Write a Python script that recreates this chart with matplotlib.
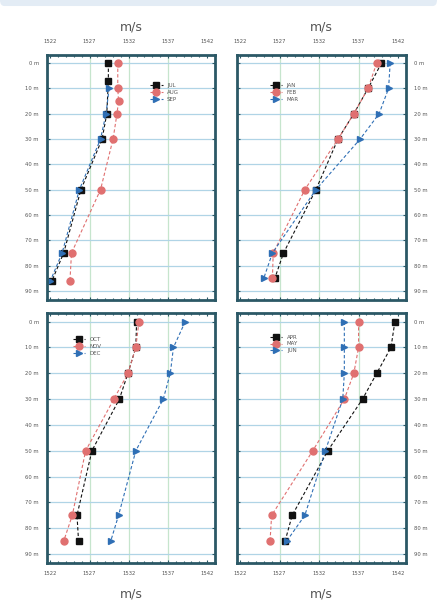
import numpy as np
import matplotlib
matplotlib.use("Agg")
import matplotlib.pyplot as plt
from matplotlib.patches import FancyBboxPatch

# depth levels (m)
depths = [0, 10, 20, 30, 50, 75, 85]

# top-left: JUL / AUG / SEP
jul_d = [0, 7, 20, 30, 50, 75, 86]
jul = [1529.4, 1529.4, 1529.2, 1528.6, 1525.9, 1523.7, 1522.2]
aug_d = [0, 10, 15, 20, 30, 50, 75, 86]
aug = [1530.6, 1530.6, 1530.7, 1530.5, 1530.0, 1528.4, 1524.7, 1524.5]
sep_d = [10, 20, 30, 50, 75, 86]
sep = [1529.5, 1529.1, 1528.4, 1525.7, 1523.5, 1522.0]

# top-right: JAN / FEB / MAR
jan = [1539.9, 1538.2, 1536.4, 1534.4, 1531.6, 1527.5, 1526.4]
feb = [1539.3, 1538.2, 1536.4, 1534.4, 1530.2, 1526.2, 1526.1]
mar = [1541.0, 1540.8, 1539.6, 1537.2, 1531.6, 1526.1, 1525.0]

# bottom-left: OCT / NOV / DEC
octo = [1533.0, 1532.9, 1531.9, 1530.8, 1527.3, 1525.4, 1525.6]
nov = [1533.3, 1532.9, 1531.9, 1530.1, 1526.5, 1524.8, 1523.7]
dec = [1539.2, 1537.7, 1537.3, 1536.4, 1532.9, 1530.7, 1529.7]

# bottom-right: APR / MAY / JUN
apr = [1541.6, 1541.1, 1539.3, 1537.5, 1533.1, 1528.6, 1527.7]
may = [1537.0, 1537.0, 1536.4, 1535.2, 1531.2, 1526.0, 1525.8]
jun = [1535.2, 1535.2, 1535.2, 1535.0, 1532.8, 1530.2, 1527.9]

xticks = [1522, 1527, 1532, 1537, 1542]
yticks = [0, 10, 20, 30, 40, 50, 60, 70, 80, 90]
ylabels = ["%d m" % d for d in yticks]

c_black = "#111111"
c_red = "#e07070"
c_blue = "#2f6fb5"
frame_c = "#2b5866"

fig = plt.figure(figsize=(4.37, 6.01), dpi=100)

# light band at the top of the screenshot
band = FancyBboxPatch((0.0, 0.99), 1.0, 0.02, boxstyle="round,pad=0,rounding_size=0.01",
                      transform=fig.transFigure, facecolor="#e3ecf5", edgecolor="none")
fig.patches.append(band)

panels = [
    ([0.108, 0.501, 0.384, 0.408], "top", "left",
     [(jul_d, jul, "JUL"), (aug_d, aug, "AUG"), (sep_d, sep, "SEP")], (0.70, 0.90)),
    ([0.542, 0.501, 0.387, 0.408], "top", "right",
     [(depths, jan, "JAN"), (depths, feb, "FEB"), (depths, mar, "MAR")], (0.28, 0.90)),
    ([0.108, 0.063, 0.384, 0.416], "bottom", "left",
     [(depths, octo, "OCT"), (depths, nov, "NOV"), (depths, dec, "DEC")], (0.24, 0.92)),
    ([0.542, 0.063, 0.387, 0.416], "bottom", "right",
     [(depths, apr, "APR"), (depths, may, "MAY"), (depths, jun, "JUN")], (0.28, 0.93)),
]

styles = [(c_black, "s"), (c_red, "o"), (c_blue, ">")]

for rect, xside, yside, series, legpos in panels:
    ax = fig.add_axes(rect)
    for (d, v, lab), (col, mk) in zip(series, styles):
        ax.plot(v, d, linestyle=(0, (3, 2)), linewidth=0.8, color=col,
                marker=mk, markersize=5, label=lab)
    ax.set_xlim(1521.6, 1543)
    ax.set_ylim(93.5, -3.3)
    ax.set_xticks(xticks)
    ax.set_xticks(np.arange(1522, 1543, 1), minor=True)
    ax.set_yticks(yticks)
    ax.set_yticklabels(ylabels)
    for x in [1527, 1532, 1537]:
        ax.axvline(x, color="#c6e5cd", linewidth=0.9, zorder=0)
    for y in yticks:
        ax.axhline(y, color="#b0d4e6", linewidth=0.9, zorder=0)
    ax.tick_params(axis="both", which="both", direction="in", colors=frame_c,
                   labelsize=3.8, labelcolor="#555555", top=True, bottom=True,
                   left=True, right=True, length=2.5, width=0.8)
    ax.tick_params(axis="x", which="major", pad=8)
    ax.tick_params(axis="y", which="major", pad=6)
    ax.tick_params(axis="x", which="minor", length=1.5)
    if xside == "top":
        ax.tick_params(axis="x", labeltop=True, labelbottom=False)
        ax.xaxis.set_label_position("top")
        ax.set_xlabel("m/s", fontsize=9, color="#555555", labelpad=6)
    else:
        ax.tick_params(axis="x", labeltop=False, labelbottom=True, pad=6)
        ax.set_xlabel("m/s", fontsize=9, color="#555555", labelpad=8)
    if yside == "right":
        ax.tick_params(axis="y", labelright=True, labelleft=False)
    for s in ax.spines.values():
        s.set_color(frame_c)
        s.set_linewidth(2.0)
    leg = ax.legend(loc="upper center", bbox_to_anchor=legpos, frameon=False,
                    fontsize=4, handlelength=2.2, labelspacing=0.35, borderpad=0.2)
    for t in leg.get_texts():
        t.set_color("#555555")

fig.savefig("out.png", dpi=100)
